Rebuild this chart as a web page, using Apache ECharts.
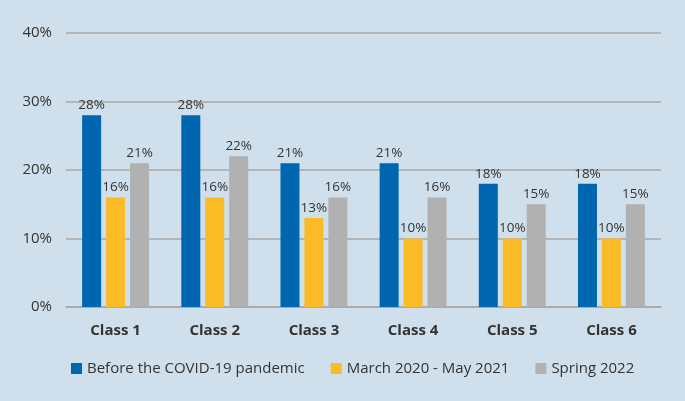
<!DOCTYPE html>
<html><head><meta charset="utf-8">
<script src="https://cdn.jsdelivr.net/npm/echarts@6/dist/echarts.min.js"></script>
<style>html,body{margin:0;padding:0;background:#cfe0ec;}#c{width:685px;height:401px;}</style>
</head><body><div id="c"></div>
<script>
var categories = ['Class 1','Class 2','Class 3','Class 4','Class 5','Class 6'];
var seriesNames = ['Before the COVID-19 pandemic','March 2020 - May 2021','Spring 2022'];
var before = [28,28,21,21,18,18];
var during = [16,16,13,10,10,10];
var spring = [21,22,16,16,15,15];
var yTicks = [0,10,20,30,40];
var colors = ['#0066b0','#fbbb26','#b1b1b1'];
var font = '"Open Sans", "Noto Sans", sans-serif';
function mk(name, data, color){
  return {name:name,type:'bar',data:data,barWidth:19,barGap:'26%',
    itemStyle:{color:color},
    label:{show:true,position:'top',formatter:'{c}%',color:'#333',fontSize:13.5,fontFamily:font,distance:3}};
}
var chart = echarts.init(document.getElementById('c'));
chart.setOption({
  backgroundColor:'#cfe0ec',
  animation:false,
  color:colors,
  grid:{left:66,right:24,top:33,bottom:94},
  legend:{bottom:20,left:66,itemWidth:11,itemHeight:11,itemGap:26,icon:'rect',
    textStyle:{fontSize:15,color:'#333',fontFamily:font}},
  xAxis:{type:'category',data:categories,axisTick:{show:false},
    axisLine:{lineStyle:{color:'#a8a8a8',width:1.5}},
    axisLabel:{fontSize:15,fontWeight:'bold',color:'#333',fontFamily:font,margin:16}},
  yAxis:{type:'value',min:yTicks[0],max:yTicks[yTicks.length-1],interval:10,
    axisLine:{show:false},axisTick:{show:false},
    splitLine:{lineStyle:{color:'#a8a8a8',width:1.5}},
    axisLabel:{formatter:'{value}%',fontSize:15,color:'#333',fontFamily:font,margin:14}},
  series:[mk(seriesNames[0],before,colors[0]),mk(seriesNames[1],during,colors[1]),mk(seriesNames[2],spring,colors[2])]
});
</script></body></html>
